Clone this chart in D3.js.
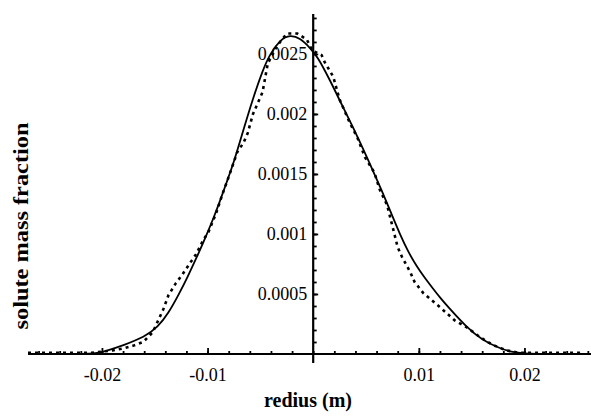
<!DOCTYPE html>
<html>
<head>
<meta charset="utf-8">
<script src="https://cdn.jsdelivr.net/npm/d3@7"></script>
<style>
  html, body { margin: 0; padding: 0; background: #fff; }
  svg { display: block; }
</style>
</head>
<body>
<svg id="chart" width="591" height="416"></svg>
<script>
// ---- data ----
const modelX = [-0.027, -0.024, -0.022, -0.0205, -0.0198, -0.0179, -0.016, -0.0147, -0.0137, -0.0127, -0.0119, -0.011, -0.0102, -0.0094, -0.0088, -0.0082, -0.0075, -0.0066, -0.0057, -0.0048, -0.0041, -0.0031, -0.0022, -0.0012, -0.0003, 0.0004, 0.0016, 0.0028, 0.0041, 0.0054, 0.0065, 0.0074, 0.0082, 0.009, 0.0098, 0.0106, 0.0113, 0.0121, 0.0129, 0.0145, 0.016, 0.0176, 0.0186, 0.0198, 0.021, 0.024, 0.0265];
const modelY = [0, 0, 0, 0.000005, 0.00002, 0.000075, 0.00014, 0.000225, 0.00034, 0.0005, 0.00064, 0.00081, 0.00097, 0.00114, 0.00128, 0.00143, 0.0016, 0.00187, 0.00213, 0.00236, 0.0025, 0.00262, 0.00266, 0.00263, 0.00255, 0.00248, 0.00228, 0.00206, 0.00183, 0.00158, 0.00136, 0.00117, 0.001, 0.00085, 0.00073, 0.00063, 0.00055, 0.00046, 0.00038, 0.000225, 0.000117, 0.00005, 0.00002, 0.000005, 0, 0, 0];

const dataX = [-0.027, -0.025, -0.023, -0.021, -0.019, -0.0178, -0.017, -0.0161, -0.0152, -0.0142, -0.0137, -0.013, -0.0124, -0.0118, -0.0111, -0.0104, -0.0099, -0.0092, -0.0086, -0.0079, -0.0072, -0.0066, -0.0062, -0.0057, -0.0053, -0.0048, -0.0043, -0.0034, -0.0025, -0.0015, -0.0006, -0.0001, 0.0008, 0.0011, 0.0019, 0.0025, 0.0035, 0.0042, 0.0049, 0.0058, 0.0063, 0.007, 0.008, 0.0084, 0.0092, 0.0096, 0.0104, 0.012, 0.0134, 0.0145, 0.0158, 0.017, 0.0183, 0.0195, 0.021, 0.023, 0.0255];
const dataY = [0.00001, 0.00001, 0.00001, 0.00001, 0.00003, 0.00005, 0.00007, 0.0001, 0.00018, 0.00037, 0.00049, 0.00059, 0.00066, 0.00074, 0.00083, 0.00095, 0.00102, 0.00117, 0.00133, 0.0015, 0.00168, 0.00176, 0.00184, 0.002, 0.00208, 0.00218, 0.00242, 0.00257, 0.00267, 0.00267, 0.00262, 0.00253, 0.00249, 0.00243, 0.00231, 0.00212, 0.00192, 0.0018, 0.00164, 0.00151, 0.00137, 0.00124, 0.00089, 0.00081, 0.00068, 0.0006, 0.00051, 0.00039, 0.00028, 0.000225, 0.00014, 0.000075, 0.00003, 0.00001, 0.00001, 0.00001, 0.00001];

const xTickLabels = [-0.02, -0.01, 0.01, 0.02];
const yTickLabels = [0.0005, 0.001, 0.0015, 0.002, 0.0025];
const xMinorTicks = d3.range(-26, 27, 2).map(d => d / 1000);
const xMajorTicks = [-0.02, -0.01, 0.01, 0.02];
const yMinorTicks = d3.range(1, 29).map(d => d / 10000);
const yMajorTicks = [0.0005, 0.001, 0.0015, 0.002, 0.0025];

const xTitle = "redius (m)";
const yTitle = "solute mass fraction";

// ---- layout ----
const svg = d3.select("#chart");
const x = d3.scaleLinear().domain([-0.027, 0.0263]).range([28, 591]);
const y = d3.scaleLinear().domain([0, 0.002833]).range([354, 14]);
const x0 = x(0), y0 = y(0);
const serif = "'Liberation Serif', 'Times New Roman', serif";

// x axis line
svg.append("line").attr("x1", x.range()[0]).attr("x2", x.range()[1])
  .attr("y1", y0).attr("y2", y0).attr("stroke", "#000").attr("stroke-width", 2.2);
// y axis line
svg.append("line").attr("x1", x0).attr("x2", x0)
  .attr("y1", y.range()[1]).attr("y2", y0 + 9).attr("stroke", "#000").attr("stroke-width", 2.2);

// x ticks (above the axis)
const gxMinor = svg.append("g").attr("transform", `translate(0,${y0})`)
  .call(d3.axisTop(x).tickValues(xMinorTicks).tickSize(3).tickFormat(""));
const gxMajor = svg.append("g").attr("transform", `translate(0,${y0})`)
  .call(d3.axisTop(x).tickValues(xMajorTicks).tickSize(6).tickFormat(""));
[gxMinor, gxMajor].forEach(g => {
  g.select(".domain").remove();
  g.selectAll("line").attr("stroke", "#000").attr("stroke-width", 1.8);
});
// x tick labels
const gxLab = svg.append("g").attr("transform", `translate(0,${y0})`)
  .call(d3.axisBottom(x).tickValues(xTickLabels).tickSize(0).tickPadding(0).tickFormat(d => String(d)));
gxLab.select(".domain").remove();
gxLab.selectAll("text").attr("y", 27).attr("dy", null)
  .attr("font-family", serif).attr("font-size", 18).attr("fill", "#000");

// y ticks (right of the axis)
const gyMinor = svg.append("g").attr("transform", `translate(${x0},0)`)
  .call(d3.axisRight(y).tickValues(yMinorTicks).tickSize(3.5).tickFormat(""));
const gyMajor = svg.append("g").attr("transform", `translate(${x0},0)`)
  .call(d3.axisRight(y).tickValues(yMajorTicks).tickSize(5).tickFormat(""));
[gyMinor, gyMajor].forEach(g => {
  g.select(".domain").remove();
  g.selectAll("line").attr("stroke", "#000").attr("stroke-width", 1.8);
});

// curves
const modelPts = modelX.map((v, i) => [v, modelY[i]]);
const dataPts = dataX.map((v, i) => [v, dataY[i]]);

svg.append("path").datum(dataPts)
  .attr("d", d3.line().x(d => x(d[0])).y(d => y(d[1])).curve(d3.curveLinear))
  .attr("fill", "none").attr("stroke", "#000").attr("stroke-width", 2.6)
  .attr("stroke-dasharray", "3,4");

svg.append("path").datum(modelPts)
  .attr("d", d3.line().x(d => x(d[0])).y(d => y(d[1])).curve(d3.curveBasis))
  .attr("fill", "none").attr("stroke", "#000").attr("stroke-width", 1.8);

// y tick labels (left of the axis)
const gyLab = svg.append("g").attr("transform", `translate(${x0},0)`)
  .call(d3.axisLeft(y).tickValues(yTickLabels).tickSize(0).tickPadding(6).tickFormat(d => String(d)));
gyLab.select(".domain").remove();
gyLab.selectAll("text").attr("font-family", serif).attr("font-size", 18).attr("fill", "#000");

// axis titles
svg.append("text").attr("x", 308).attr("y", 407)
  .attr("text-anchor", "middle").attr("font-family", serif).attr("font-weight", "bold")
  .attr("font-size", 20).attr("fill", "#000").text(xTitle);

svg.append("text").attr("transform", "translate(28,226) rotate(-90)")
  .attr("text-anchor", "middle").attr("font-family", serif).attr("font-weight", "bold")
  .attr("font-size", 21).attr("textLength", 207).attr("lengthAdjust", "spacingAndGlyphs")
  .attr("fill", "#000").text(yTitle);
</script>
</body>
</html>
